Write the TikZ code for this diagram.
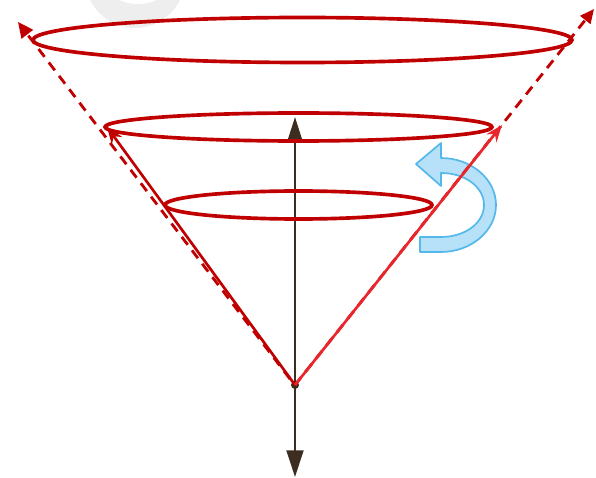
\documentclass[tikz,border=0pt]{standalone}
\usetikzlibrary{arrows.meta}
\definecolor{conered}{HTML}{C00000}
\definecolor{brightred}{HTML}{E8262B}
\definecolor{axisbrown}{HTML}{3D2C20}
\definecolor{swirlfill}{HTML}{B6E1F8}
\definecolor{swirlline}{HTML}{55B8EA}

\begin{document}
\begin{tikzpicture}[x=0.025cm,y=-0.025cm,>=Stealth,
  rim/.style={conered,line width=2.6pt},
  ray/.style={conered,line width=1.9pt},
  guide/.style={conered,line width=2pt,dash pattern=on 7pt off 5pt}]
  \useasboundingbox (0,0) rectangle (596,478);
  \clip (0,0) rectangle (596,478);
  \fill[gray!13] (135,-22) circle (50);
  \fill[white] (138,-40) circle (44);
  \coordinate (O) at (295,385);
  \coordinate (Otop) at (295,117);
  \coordinate (Obot) at (295,477);
  \coordinate (Ldash) at (18,22);
  \coordinate (Lstart) at (290,379);
  \coordinate (Lray) at (107,127);
  \coordinate (Rdash) at (594,9);
  \coordinate (Rray) at (502,125);
  \draw[axisbrown,line width=1.7pt,{Triangle[length=18pt,width=11pt]}-{Triangle[length=19pt,width=12pt]}] (Otop) -- (Obot);
  \fill[axisbrown] (O) circle (4);
  \draw[rim] (302.5,40) ellipse [x radius=269.5, y radius=22.5];
  \draw[rim] (298.5,127) ellipse [x radius=193.5, y radius=14];
  \draw[rim] (298.5,205) ellipse [x radius=133.5, y radius=14];
  \draw[swirlline,fill=swirlfill,line width=1.2pt,line join=round]
    (416,164) -- (441,143) -- (441,158)
    .. controls (471,158) and (496,179) .. (496,205)
    .. controls (496,231) and (471,252) .. (441,252) -- (420,252) -- (420,237) -- (441,237)
    .. controls (465,237) and (484,223) .. (484,205)
    .. controls (484,187) and (465,173) .. (441,173) -- (441,186) -- cycle;
  \draw[guide,-{Triangle[length=11pt,width=10pt]}] (Lstart) -- (Ldash);
  \draw[guide,-{Triangle[length=10pt,width=9pt]}] (O) -- (Rdash);
  \draw[ray,-{Stealth[length=12pt,width=9pt]}] (O) -- (Lray);
  \draw[ray,brightred,-{Stealth[length=12pt,width=9pt]}] (O) -- (Rray);
\end{tikzpicture}
\end{document}
